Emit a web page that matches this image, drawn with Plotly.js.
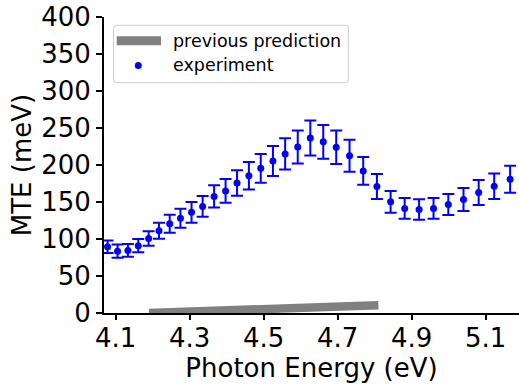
<!DOCTYPE html>
<html><head><meta charset="utf-8">
<script src="https://cdn.plot.ly/plotly-3.0.1.min.js"></script>
<style>html,body{margin:0;padding:0;background:#fff;}#chart{width:519px;height:386px;}</style>
</head><body><div id="chart"></div>
<script>
// ---- data ----
const energy = [4.078, 4.105, 4.133, 4.161, 4.189, 4.217, 4.246, 4.275, 4.305, 4.335, 4.366,
  4.397, 4.428, 4.460, 4.492, 4.525, 4.558, 4.592, 4.626, 4.661, 4.696, 4.732, 4.769, 4.806,
  4.843, 4.881, 4.920, 4.959, 4.999, 5.040, 5.081, 5.123, 5.166];
const mte = [89.5, 83.5, 84.5, 91, 100.7, 111, 120.5, 128, 136, 144, 157.6,
  165, 175.7, 185.5, 195.5, 205.4, 215, 224.3, 236.5, 231.3, 224, 212.5, 192, 171,
  150.2, 141.3, 139.8, 141.3, 146.5, 153.4, 162.9, 171.3, 180.8];
const mteErr = [8.5, 9, 8.6, 9, 9.9, 10.8, 12.2, 12.9, 14, 14, 14.9,
  16, 17.3, 18.5, 19.5, 20.4, 21, 22.3, 23.5, 22.8, 22.5, 21.5, 18.8, 17,
  14.8, 14, 13.8, 14, 14.2, 15.4, 16.9, 17.3, 18.3];
const predEnergy = [4.19, 4.81];
const predMte = [0, 10.6];
const xTicks = [4.1, 4.3, 4.5, 4.7, 4.9, 5.1];
const xTickLabels = ['4.1', '4.3', '4.5', '4.7', '4.9', '5.1'];
const yTicks = [0, 50, 100, 150, 200, 250, 300, 350, 400];
const legendLabels = ['previous prediction', 'experiment'];
const xTitle = 'Photon Energy (eV)';
const yTitle = 'MTE (meV)';

// ---- layout helpers (pixel -> paper) ----
const W = 519, H = 386;
const M = {l: 104, r: 0, t: 17, b: 73};
const PW = W - M.l - M.r, PH = H - M.t - M.b;
const px = x => (x - M.l) / PW;
const py = y => (H - M.b - y) / PH;
const FONT = 'DejaVu Sans, Verdana, sans-serif';
const BLUE = '#0000ff', GRAY = '#808080';

const traces = [
  {x: predEnergy, y: predMte, type: 'scatter', mode: 'lines',
   line: {color: GRAY, width: 8.5}, showlegend: false, hoverinfo: 'skip'},
  {x: energy, y: mte, type: 'scatter', mode: 'markers',
   marker: {color: BLUE, size: 7},
   error_y: {type: 'data', array: mteErr, visible: true, color: BLUE, thickness: 2, width: 6},
   showlegend: false}
];

// legend box (rounded rect)
const lx0 = px(113.5), lx1 = px(348.3), ly1 = py(25.3), ly0 = py(82.7);
const rx = 3 / PW, ry = 3 / PH;
const legendPath = `M ${lx0 + rx} ${ly1} L ${lx1 - rx} ${ly1} Q ${lx1} ${ly1} ${lx1} ${ly1 - ry} ` +
  `L ${lx1} ${ly0 + ry} Q ${lx1} ${ly0} ${lx1 - rx} ${ly0} L ${lx0 + rx} ${ly0} ` +
  `Q ${lx0} ${ly0} ${lx0} ${ly0 + ry} L ${lx0} ${ly1 - ry} Q ${lx0} ${ly1} ${lx0 + rx} ${ly1} Z`;

const layout = {
  width: W, height: H,
  margin: M,
  paper_bgcolor: '#fff', plot_bgcolor: '#fff',
  font: {family: FONT, color: '#000', size: 26},
  showlegend: false,
  xaxis: {
    range: [4.0684, 5.19], tickmode: 'array', tickvals: xTicks, ticktext: xTickLabels,
    showline: true, linecolor: '#000', linewidth: 2, mirror: false,
    ticks: 'outside', ticklen: 5, tickwidth: 2, tickcolor: '#000',
    ticklabelstandoff: -4,
    showgrid: false, zeroline: false,
    tickfont: {family: FONT, size: 26, color: '#000'},
    title: {text: xTitle, font: {family: FONT, size: 26, color: '#000'}, standoff: 4}
  },
  yaxis: {
    range: [0, 400], tickmode: 'array', tickvals: yTicks,
    showline: true, linecolor: '#000', linewidth: 2, mirror: false,
    ticks: 'outside', ticklen: 6, tickwidth: 2, tickcolor: '#000',
    showgrid: false, zeroline: false,
    tickfont: {family: FONT, size: 26, color: '#000'},
    title: {text: yTitle, font: {family: FONT, size: 26, color: '#000'}, standoff: 2}
  },
  shapes: [
    {type: 'path', xref: 'paper', yref: 'paper', path: legendPath,
     line: {color: '#cccccc', width: 1}, fillcolor: 'rgba(255,255,255,0.8)'},
    {type: 'line', xref: 'paper', yref: 'paper', x0: px(116.7), x1: px(161), y0: py(40.7), y1: py(40.7),
     line: {color: GRAY, width: 9}},
    {type: 'circle', xref: 'paper', yref: 'paper', xsizemode: 'pixel', ysizemode: 'pixel',
     xanchor: px(138.3), yanchor: py(65.5), x0: -3.5, x1: 3.5, y0: -3.5, y1: 3.5,
     fillcolor: BLUE, line: {width: 0}}
  ],
  annotations: [
    {xref: 'paper', yref: 'paper', x: px(171), y: py(41), xanchor: 'left', yanchor: 'middle',
     text: legendLabels[0], showarrow: false, font: {family: FONT, size: 17.5, color: '#000'}},
    {xref: 'paper', yref: 'paper', x: px(171), y: py(65.5), xanchor: 'left', yanchor: 'middle',
     text: legendLabels[1], showarrow: false, font: {family: FONT, size: 17.5, color: '#000'}}
  ]
};

Plotly.newPlot('chart', traces, layout, {displayModeBar: false, staticPlot: true});
</script>
</body></html>
